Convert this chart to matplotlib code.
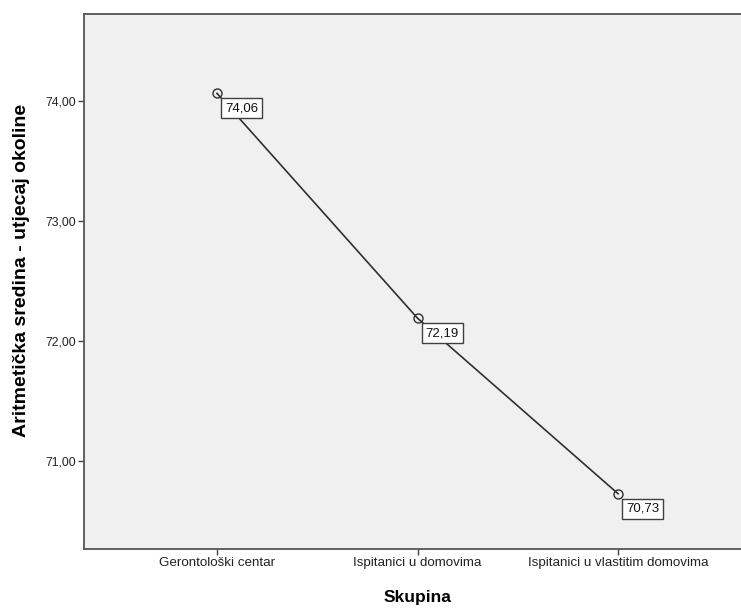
import matplotlib
matplotlib.use("Agg")
import matplotlib.pyplot as plt

plt.rcParams['font.family'] = ['Liberation Sans', 'DejaVu Sans']

groups = ["Gerontološki centar", "Ispitanici u domovima", "Ispitanici u vlastitim domovima"]
means = [74.06, 72.19, 70.73]
yticks = [71.0, 72.0, 73.0, 74.0]

fig = plt.figure(figsize=(7.41, 6.08), dpi=100)
ax = fig.add_axes([84 / 741, 59 / 608, 667 / 741, 535 / 608])
ax.set_facecolor("#f0f0f0")

xs = list(range(len(groups)))
ax.plot(xs, means, color="#303030", lw=1.2, marker="o", ms=6.5,
        mfc="none", mec="#303030", mew=1.0)

for x, m in zip(xs, means):
    ax.annotate(f"{m:.2f}".replace(".", ","), (x, m), xytext=(8, -9),
                textcoords="offset pixels", ha="left", va="top", fontsize=9.5,
                color="#111111",
                bbox=dict(boxstyle="square,pad=0.3", fc="white", ec="#404040", lw=1.0))

ax.set_xlim(-0.663, 2.663)
ax.set_ylim(70.27, 74.72)
ax.set_xticks(xs)
ax.set_xticklabels(groups, fontsize=9.6, color="#222222")
ax.set_yticks(yticks)
ax.set_yticklabels([f"{v:.2f}".replace(".", ",") for v in yticks], fontsize=8.8, color="#222222")
ax.tick_params(length=4.5, width=1, color="#444444", pad=1.5)

for s in ax.spines.values():
    s.set_color("#555555")
    s.set_linewidth(1.3)

ax.set_xlabel("Skupina", fontsize=12.5, fontweight="bold")
ax.set_ylabel("Aritmetička sredina - utjecaj okoline", fontsize=14, fontweight="bold")
ax.xaxis.set_label_coords(0.5007, -0.0915)
ax.xaxis.label.set_va("center")
ax.yaxis.set_label_coords(-0.094, 0.52)
ax.yaxis.label.set_va("center")

fig.savefig("out.png", dpi=100)
